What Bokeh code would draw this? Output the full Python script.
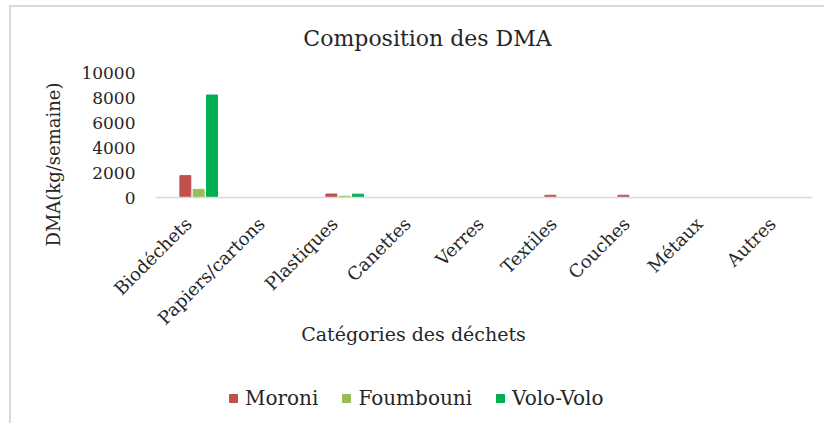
import math
from bokeh.plotting import figure
from bokeh.models import (ColumnDataSource, Range1d, FixedTicker, Legend,
                          LegendItem, Label, LinearAxis)
from bokeh.transform import dodge
from bokeh.embed import file_html
from bokeh.resources import INLINE

categories = ["Biodéchets", "Papiers/cartons", "Plastiques", "Canettes", "Verres",
              "Textiles", "Couches", "Métaux", "Autres"]
moroni = [1750, 0, 280, 0, 0, 180, 180, 0, 0]
foumbouni = [650, 0, 100, 0, 0, 0, 0, 0, 0]
volo_volo = [8200, 0, 270, 0, 0, 0, 0, 0, 0]
series_names = ["Moroni", "Foumbouni", "Volo-Volo"]
y_ticks = [0, 2000, 4000, 6000, 8000, 10000]

colors = ["#C0504D", "#9BBB59", "#00B050"]
FONT = "DejaVu Serif"
TXT = "#262626"

# category slots 0..n along x (one unit per category)
pos = [i + 0.5 for i in range(len(categories))]
src = ColumnDataSource(dict(pos=pos, cat=categories, Moroni=moroni,
                            Foumbouni=foumbouni, VoloVolo=volo_volo))

p = figure(frame_width=813, frame_height=416,
           x_range=Range1d(-1.9726, 9.164), y_range=Range1d(-18080, 15200),
           x_axis_type=None, y_axis_type=None,
           output_backend="svg", toolbar_location=None,
           min_border=0)
p.outline_line_color = None
p.xgrid.grid_line_color = None
p.ygrid.grid_line_color = None

offsets = [-0.091, 0.091, 0.274]
fields = ["Moroni", "Foumbouni", "VoloVolo"]
renderers = []
for f, off, c in zip(fields, offsets, colors):
    r = p.vbar(x=dodge("pos", off), top=f, width=0.15, source=src,
               fill_color=c, line_color=c)
    renderers.append(r)

# x axis (category axis drawn at y = 0); slanted labels end at the category centre
label_pos = [v - 0.05 for v in pos]
xaxis = LinearAxis(fixed_location=0, bounds=(0, len(categories)),
                   ticker=FixedTicker(ticks=label_pos),
                   major_label_overrides={v: c for v, c in zip(label_pos, categories)})
xaxis.axis_line_color = "#D9D9D9"
xaxis.axis_line_width = 1.5
xaxis.major_tick_line_color = None
xaxis.minor_tick_line_color = None
xaxis.major_label_orientation = math.pi / 4
xaxis.major_label_text_font = FONT
xaxis.major_label_text_font_size = "18px"
xaxis.major_label_text_color = TXT
xaxis.major_label_standoff = 17
p.add_layout(xaxis, "below")

yaxis = LinearAxis(fixed_location=0, bounds=(0, 10000),
                   ticker=FixedTicker(ticks=y_ticks))
yaxis.axis_line_color = None
yaxis.major_tick_line_color = None
yaxis.minor_tick_line_color = None
yaxis.major_label_text_font = FONT
yaxis.major_label_text_font_size = "17px"
yaxis.major_label_text_color = TXT
yaxis.major_label_standoff = 14
p.add_layout(yaxis, "left")

# texts
def lab(x, y, text, size, angle=0.0):
    p.add_layout(Label(x=x, y=y, text=text, angle=angle, text_align="center",
                       text_baseline="middle", text_font=FONT,
                       text_font_size=size, text_color=TXT))

lab(3.726, 12720, "Composition des DMA", "22px")
lab(-1.397, 2640, "DMA(kg/semaine)", "18px", math.pi / 2)
lab(3.534, -10880, "Catégories des déchets", "19px")

legend = Legend(items=[LegendItem(label=n, renderers=[r]) for n, r in zip(series_names, renderers)],
                location=(217, 13), orientation="horizontal")
legend.label_text_font = FONT
legend.label_text_font_size = "20px"
legend.label_text_color = TXT
legend.glyph_width = 10
legend.glyph_height = 10
legend.label_standoff = 7
legend.spacing = 23
legend.padding = 0
legend.margin = 0
legend.border_line_color = None
legend.background_fill_alpha = 0
p.add_layout(legend, "center")

p.styles = {"border-top": "2px solid #D9D9D9", "border-left": "2px solid #D9D9D9",
            "margin-left": "9px", "margin-top": "5px"}

open("out.html", "w").write(file_html(p, INLINE))
